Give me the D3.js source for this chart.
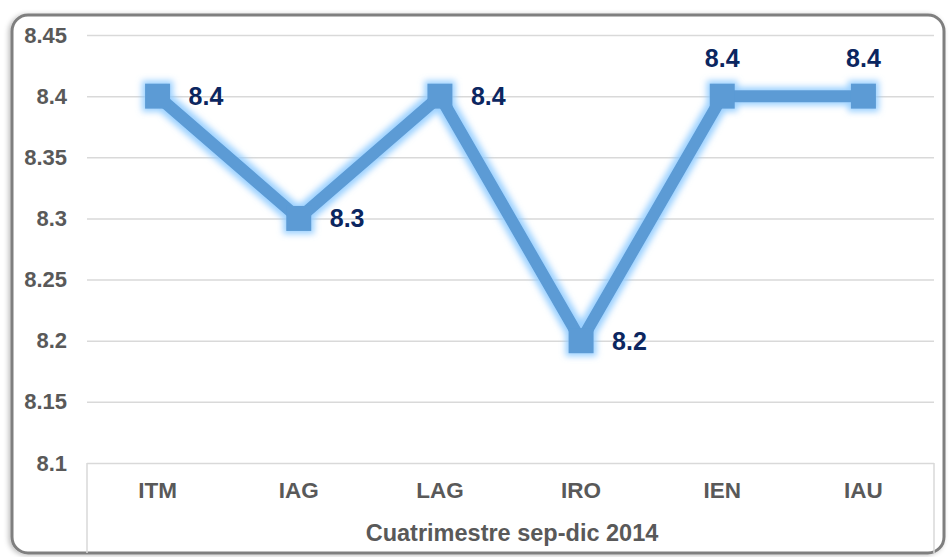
<!DOCTYPE html>
<html>
<head>
<meta charset="utf-8">
<script src="https://cdnjs.cloudflare.com/ajax/libs/d3/7.8.5/d3.min.js"></script>
<style>
    body { margin: 0; background: #ffffff; }
    svg text { font-family: Arial, "Liberation Sans", sans-serif; font-weight: bold; }
</style>
</head>
<body>
<div class="chartdiv"></div>
<script>
// data
var categories = ['ITM', 'IAG', 'LAG', 'IRO', 'IEN', 'IAU']
var values = [8.4, 8.3, 8.4, 8.2, 8.4, 8.4]
var labelPos = ['right', 'right', 'right', 'right', 'top', 'top']
var yTicks = [8.1, 8.15, 8.2, 8.25, 8.3, 8.35, 8.4, 8.45]
var axisTitle = 'Cuatrimestre sep-dic 2014'

// note: "top" is window.top, so use other names
var w = 949,
    h = 557,
    plotL = 87,
    plotR = 934,
    plotT = 35,
    plotB = 463

var svg = d3.select('.chartdiv')
    .append('svg')
    .attr('width', w)
    .attr('height', h)

var defs = svg.append('defs')

// soft shadow for the outer frame
var shadow = defs.append('filter')
    .attr('id', 'frameshadow')
    .attr('x', '-5%').attr('y', '-5%')
    .attr('width', '110%').attr('height', '110%')
shadow.append('feGaussianBlur').attr('in', 'SourceAlpha').attr('stdDeviation', 2.5)
shadow.append('feOffset').attr('dx', -2).attr('dy', 1).attr('result', 'off')
shadow.append('feFlood').attr('flood-color', '#000').attr('flood-opacity', 0.25)
shadow.append('feComposite').attr('in2', 'off').attr('operator', 'in')
var sm = shadow.append('feMerge')
sm.append('feMergeNode')
sm.append('feMergeNode').attr('in', 'SourceGraphic')

// glow around the line and markers
var glow = defs.append('filter')
    .attr('id', 'glow')
    .attr('x', '-20%').attr('y', '-20%')
    .attr('width', '140%').attr('height', '140%')
glow.append('feMorphology').attr('in', 'SourceAlpha').attr('operator', 'dilate').attr('radius', 3).attr('result', 'fat')
glow.append('feGaussianBlur').attr('in', 'fat').attr('stdDeviation', 3).attr('result', 'blur')
glow.append('feFlood').attr('flood-color', '#8fcbff').attr('flood-opacity', 0.9)
glow.append('feComposite').attr('in2', 'blur').attr('operator', 'in')
var gm = glow.append('feMerge')
gm.append('feMergeNode')
gm.append('feMergeNode').attr('in', 'SourceGraphic')

// outer frame
svg.append('rect')
    .attr('x', 12)
    .attr('y', 15)
    .attr('width', 932)
    .attr('height', 538)
    .attr('rx', 16)
    .attr('fill', '#ffffff')
    .attr('stroke', '#7f7f7f')
    .attr('stroke-width', 3)
    .attr('filter', 'url(#frameshadow)')

////// scales /////////////////
var xScale = d3.scaleBand()
    .domain(categories)
    .range([plotL, plotR])

var yScale = d3.scaleLinear()
    .domain([8.1, 8.45])
    .range([plotB, plotT])

// y axis: gridlines + labels
var yAxis = d3.axisLeft(yScale)
    .tickValues(yTicks)
    .tickSize(-(plotR - plotL))
    .tickPadding(20)
    .tickFormat(d => String(+d.toFixed(2)))

var gy = svg.append('g')
    .attr('class', 'y axis')
    .attr('transform', 'translate(' + plotL + ',0)')
    .call(yAxis)
gy.select('.domain').remove()
gy.selectAll('.tick line')
    .attr('stroke', '#d9d9d9')
    .attr('stroke-width', 1.5)
gy.selectAll('.tick text')
    .attr('fill', '#595959')
    .style('font-size', '22px')

// x axis: category labels below the 8.1 line
var xAxis = d3.axisBottom(xScale)
    .tickSize(0)
    .tickPadding(19)

var gx = svg.append('g')
    .attr('class', 'x axis')
    .attr('transform', 'translate(0,' + plotB + ')')
    .call(xAxis)
gx.select('.domain').remove()
gx.selectAll('.tick text')
    .attr('fill', '#595959')
    .style('font-size', '22.5px')

// side lines of the category area
gx.selectAll('.edge')
    .data([plotL, plotR])
    .enter()
    .append('line')
    .attr('x1', d => d).attr('x2', d => d)
    .attr('y1', 0).attr('y2', 90)
    .attr('stroke', '#d9d9d9')
    .attr('stroke-width', 1.5)

// axis title
svg.append('text')
    .attr('x', 512)
    .attr('y', 541)
    .attr('text-anchor', 'middle')
    .attr('fill', '#595959')
    .style('font-size', '23.5px')
    .text(axisTitle)

////// series /////////////////
var dataset = categories.map((c, i) => ({ cat: c, v: values[i], pos: labelPos[i] }))
var cx = d => xScale(d.cat) + xScale.bandwidth() / 2

var newline = d3.line()
    .x(cx)
    .y(d => yScale(d.v))

var gs = svg.append('g')
    .attr('filter', 'url(#glow)')

gs.append('path')
    .datum(dataset)
    .attr('d', newline)
    .attr('fill', 'none')
    .attr('stroke', '#5b9bd5')
    .attr('stroke-width', 12)
    .attr('stroke-linejoin', 'miter')

var msize = 25
gs.selectAll('rect')
    .data(dataset)
    .enter()
    .append('rect')
    .attr('x', d => cx(d) - msize / 2)
    .attr('y', d => yScale(d.v) - msize / 2)
    .attr('width', msize)
    .attr('height', msize)
    .attr('fill', '#5b9bd5')

// value labels
svg.append('g')
    .selectAll('text')
    .data(dataset)
    .enter()
    .append('text')
    .attr('x', d => d.pos == 'top' ? cx(d) : cx(d) + 31)
    .attr('y', d => d.pos == 'top' ? yScale(d.v) - 29 : yScale(d.v) + 9)
    .attr('text-anchor', d => d.pos == 'top' ? 'middle' : 'start')
    .attr('fill', '#0b2660')
    .style('font-size', '25px')
    .text(d => d.v.toFixed(1))
</script>
</body>
</html>
